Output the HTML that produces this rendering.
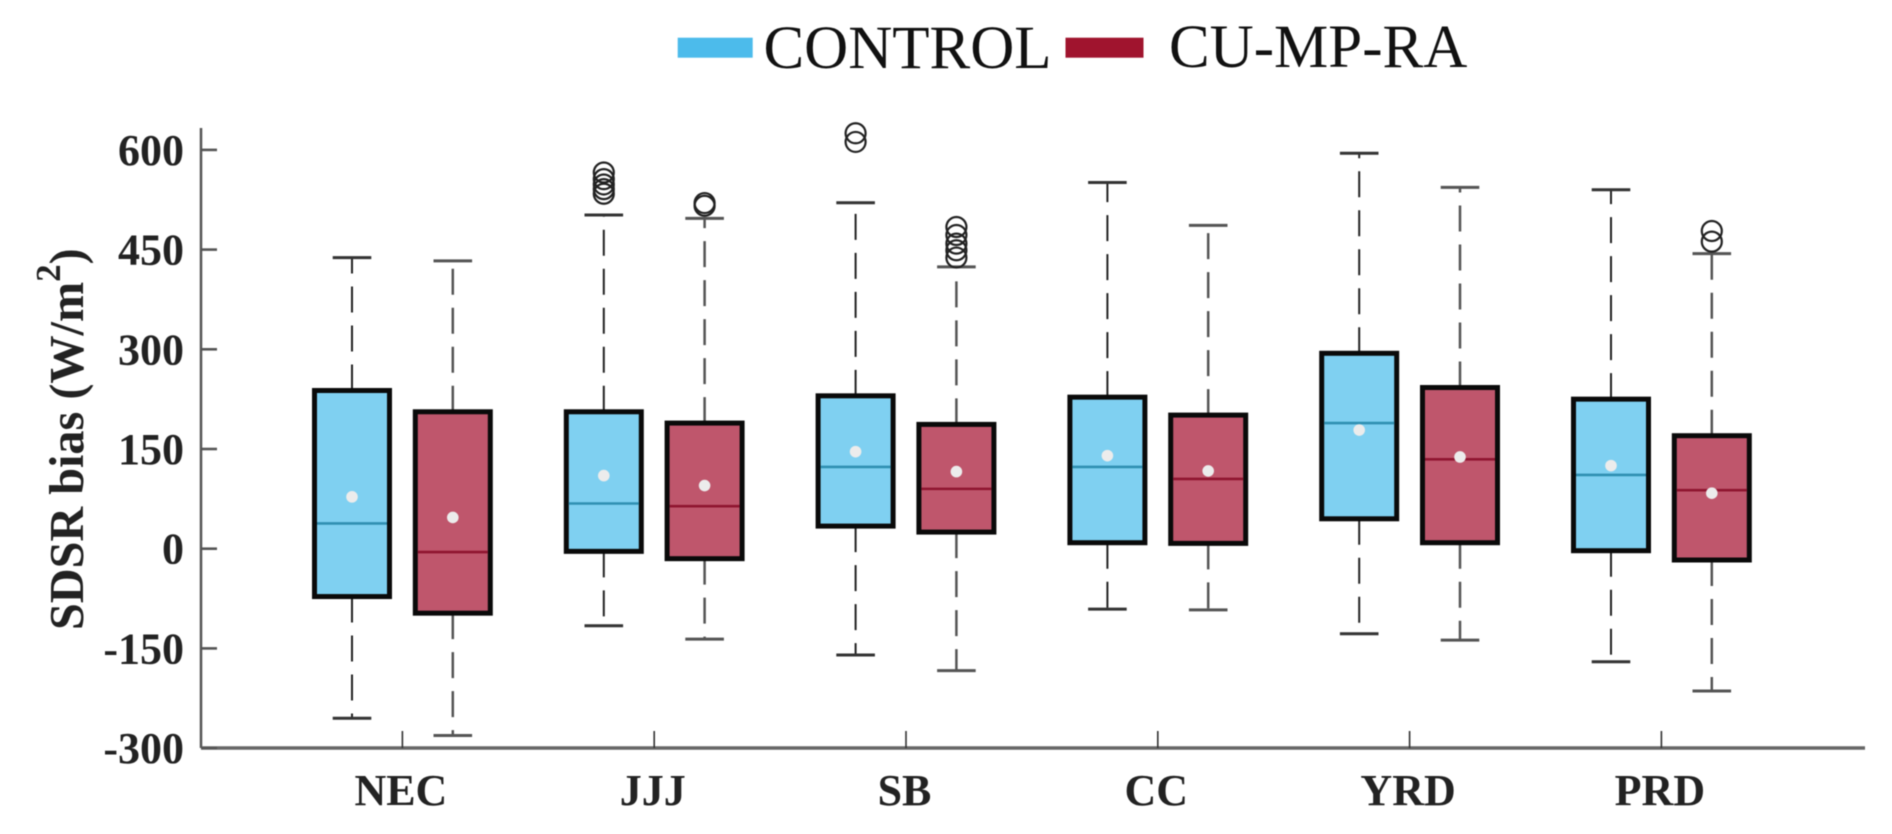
<!DOCTYPE html>
<html lang="en">
<head>
<meta charset="utf-8">
<title>SDSR bias box plot</title>
<style>
html,body{margin:0;padding:0;background:#fff;width:1892px;height:834px;overflow:hidden}
svg{display:block;font-family:"Liberation Serif",serif;filter:blur(0.5px)}
.tick-label{font-weight:bold;font-size:44px;fill:#222}
</style>
</head>
<body>
<svg id="chart" width="1892" height="834" viewBox="0 0 1892 834" xmlns="http://www.w3.org/2000/svg">
  <g>
    <rect x="677.7" y="37.7" width="75" height="20" fill="#4cbbeb"/>
    <text x="763.5" y="68" font-size="61" fill="#111">CONTROL</text>
    <rect x="1065.5" y="37.7" width="78" height="20" fill="#a0142e"/>
    <text x="1169" y="67" font-size="61" fill="#111">CU-MP-RA</text>
  </g>
  <text transform="translate(83,630) rotate(-90)" font-size="48.2" font-weight="bold" fill="#222">SDSR bias (W/m<tspan font-size="35" dy="-23">2</tspan><tspan dy="23">)</tspan></text>
  <g id="plot"></g>
</svg>
<script>
const categories = ["NEC", "JJJ", "SB", "CC", "YRD", "PRD"];
const yTickValues = [-300, -150, 0, 150, 300, 450, 600];

const controlWhiskerHigh = [438, 502, 520.5, 551, 595, 540];
const controlQ3 = [238, 206, 230, 228, 294, 225];
const controlMedian = [38, 68, 123, 123, 189, 111];
const controlMean = [78, 110, 146, 140, 178.5, 125];
const controlQ1 = [-72, -4, 34, 9, 45, -3];
const controlWhiskerLow = [-255, -116, -160, -91, -128, -170];
const controlOutliers = [[], [566, 556, 548, 541, 534], [625, 612], [], [], []];

const raWhiskerHigh = [433, 497, 424, 486.5, 543.7, 444];
const raQ3 = [206, 189, 187, 201, 242.5, 170];
const raMedian = [-5, 64, 90, 105, 134.5, 88];
const raMean = [47, 95, 116, 117, 138, 83.5];
const raQ1 = [-97, -15, 25, 8, 9, -17];
const raWhiskerLow = [-281, -136, -183.5, -92, -137.5, -214];
const raOutliers = [[], [520, 516], [484, 472, 459, 449, 438], [], [], [478, 462]];

const NS = "http://www.w3.org/2000/svg";
const plot = document.getElementById("plot");

function xScale(i) { return 402.4 + i * 251.8; }
function yScale(v) { return 548.7 - v * (99.7 / 150); }

function make(tag, attrs, parent) {
  const el = document.createElementNS(NS, tag);
  for (const k in attrs) el.setAttribute(k, attrs[k]);
  parent.appendChild(el);
  return el;
}

const axisTop = 128, axisBottom = 748, axisLeft = 201, axisRight = 1865;

const axes = make("g", {}, plot);



const yAxisLine = make("line", {x1: axisLeft, x2: axisLeft, y1: axisTop, y2: axisBottom, stroke: "#555", "stroke-width": 2.5}, axes);



const xAxisLine = make("line", {x1: axisLeft, x2: axisRight, y1: axisBottom, y2: axisBottom, stroke: "#666", "stroke-width": 3.5}, axes);



yTickValues.forEach(function (v) {
  const y = yScale(v);
  const tick = make("line", {x1: axisLeft, x2: axisLeft + 16, y1: y, y2: y, stroke: "#555", "stroke-width": 2.6}, axes);
  
  
  const label = make("text", {x: 184, y: y + 15, "text-anchor": "end", "class": "tick-label"}, axes);
  
  
  label.textContent = v;
});

categories.forEach(function (c, i) {
  const x = xScale(i);
  const tick = make("line", {x1: x, x2: x, y1: axisBottom, y2: 731, stroke: "#333", "stroke-width": 1.6}, axes);
  
  
  const label = make("text", {x: x - 1.5, y: 805, "text-anchor": "middle", "class": "tick-label"}, axes);
  
  
  label.textContent = c;
});

function drawBox(i, offset, s) {
  const cx = xScale(i) + offset;
  const boxW = 75, capW = 38.6;
  const g = make("g", {}, plot);
  
  

  const top = yScale(s.q3[i]), bot = yScale(s.q1[i]);
  const hi = yScale(s.hi[i]), lo = yScale(s.lo[i]);

  const whiskerUp = make("line", {x1: cx, x2: cx, y1: top, y2: hi, stroke: s.whisker, "stroke-width": s.whiskerWidth, "stroke-dasharray": "26 13"}, g);
  
  

  const whiskerDown = make("line", {x1: cx, x2: cx, y1: bot, y2: lo, stroke: s.whisker, "stroke-width": s.whiskerWidth, "stroke-dasharray": "26 13"}, g);
  
  

  const capUp = make("line", {x1: cx - capW / 2, x2: cx + capW / 2, y1: hi, y2: hi, stroke: s.cap, "stroke-width": 3}, g);
  
  

  const capDown = make("line", {x1: cx - capW / 2, x2: cx + capW / 2, y1: lo, y2: lo, stroke: s.cap, "stroke-width": 3}, g);
  
  

  const box = make("rect", {x: cx - boxW / 2, y: top, width: boxW, height: bot - top, fill: s.fill, stroke: "#0a0a0a", "stroke-width": 5}, g);
  
  

  const my = yScale(s.median[i]);
  const med = make("line", {x1: cx - boxW / 2 + 2.5, x2: cx + boxW / 2 - 2.5, y1: my, y2: my, stroke: s.medianColor, "stroke-width": 2.6}, g);
  
  

  const mean = make("circle", {cx: cx, cy: yScale(s.mean[i]), r: 5.8, fill: "#ececec"}, g);
  
  

  s.outliers[i].forEach(function (v) {
    const o = make("circle", {cx: cx, cy: yScale(v), r: 10, fill: "none", stroke: "#222", "stroke-width": 2.2}, g);
    
    
  });
}

const controlSeries = {name: "control", q1: controlQ1, q3: controlQ3, median: controlMedian, mean: controlMean, hi: controlWhiskerHigh, lo: controlWhiskerLow, outliers: controlOutliers, fill: "#7fd0f1", medianColor: "#2f8fb2", whisker: "#222", whiskerWidth: 2, cap: "#333"};
const raSeries = {name: "cu-mp-ra", q1: raQ1, q3: raQ3, median: raMedian, mean: raMean, hi: raWhiskerHigh, lo: raWhiskerLow, outliers: raOutliers, fill: "#bf566c", medianColor: "#8f1530", whisker: "#555", whiskerWidth: 2.5, cap: "#555"};

categories.forEach(function (c, i) {
  drawBox(i, -50.4, controlSeries);
  drawBox(i, 50.4, raSeries);
});
</script>
</body>
</html>
